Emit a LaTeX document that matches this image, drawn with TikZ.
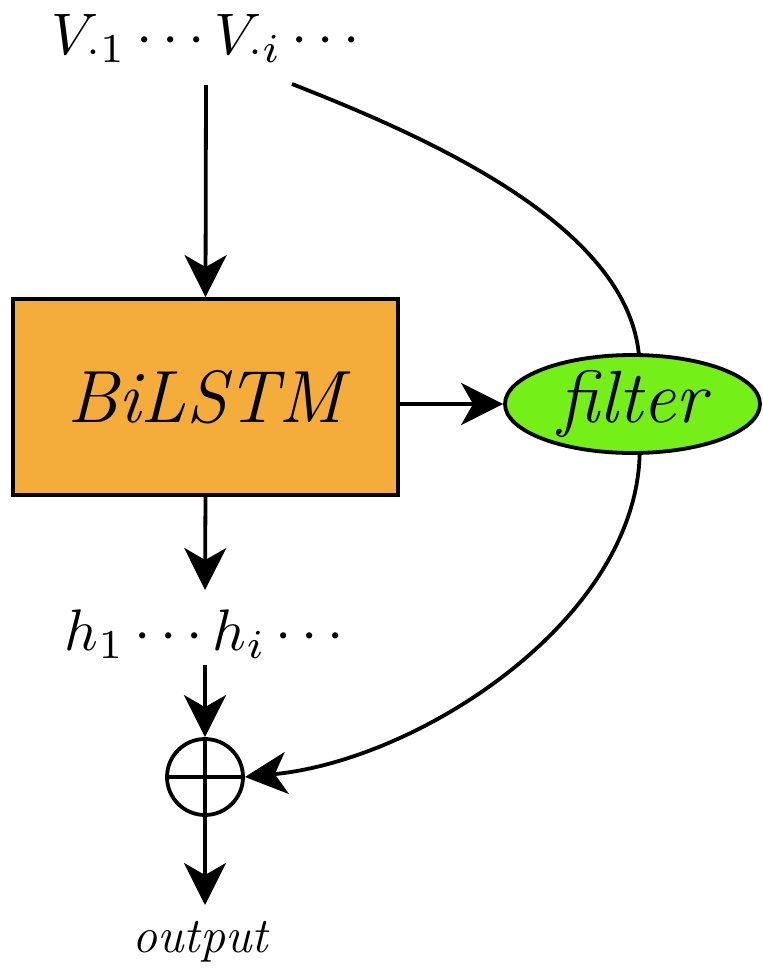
\documentclass[tikz,border=0pt]{standalone}
\usepackage{fontspec}
\usepackage{graphicx}
\usetikzlibrary{shapes.geometric,arrows.meta}
\definecolor{boxorange}{RGB}{244,172,59}
\definecolor{filtgreen}{RGB}{116,239,23}
\newcommand{\heavyit}{\itshape\addfontfeature{FakeBold=1.6}}
\begin{document}
\begin{tikzpicture}[x=0.5pt,y=-0.5pt,
  conn/.style={line width=1.9pt,-{Stealth[length=21pt,width=21pt,inset=6pt]}},
  plain/.style={line width=1.9pt},
  mathlbl/.style={inner sep=0pt,anchor=base},
  lstmbox/.style={draw,line width=1.9pt,fill=boxorange,minimum width=192.5pt,minimum height=98pt,inner sep=0pt,
    font=\fontsize{37}{44}\selectfont\heavyit},
  filtnode/.style={ellipse,draw,line width=1.9pt,fill=filtgreen,minimum width=127.5pt,minimum height=49pt,inner sep=0pt,
    font=\fontsize{37}{44}\selectfont\heavyit},
  sumnode/.style={circle,draw,line width=1.9pt,minimum size=38pt,inner sep=0pt},
  outlbl/.style={inner sep=0pt,anchor=base,font=\fontsize{25}{30}\selectfont\heavyit}
]
\useasboundingbox (0,0) rectangle (762,970);

\node[mathlbl] (V) at (206,54) {\scalebox{2.93}{$V_{\cdot 1}\cdots V_{\cdot i}\cdots$}};
\node[lstmbox] (bl) at (205.5,397) {BiLSTM};
\node[filtnode] (f) at (632.5,404) {filter};
\node[mathlbl] (h) at (204.5,650) {\scalebox{2.93}{$h_1\cdots h_i\cdots$}};
\node[sumnode] (op) at (205,777) {};
\draw[plain] (op.north) -- (op.south);
\draw[plain] (op.west) -- (op.east);
\node[outlbl] (out) at (200,952) {output};

\coordinate (vtop) at (206,85);
\coordinate (vcurve) at (292,84);
\coordinate (hin) at (205,590);
\coordinate (hout) at (205,665);
\coordinate (oend) at (205,905);

\draw[conn] (vtop) -- (bl.north);
\draw[conn] (bl.east |- f.west) -- (f.west);
\draw[conn] (bl.south) -- (hin);
\draw[conn] (hout) -- (op.north);
\draw[conn] (op.south) -- (oend);
\draw[plain] (vcurve) .. controls (430,138) and (625,225) .. (f.83);
\draw[conn] (f.-82) .. controls (635,620) and (420,760) .. (op.east);
\end{tikzpicture}
\end{document}
